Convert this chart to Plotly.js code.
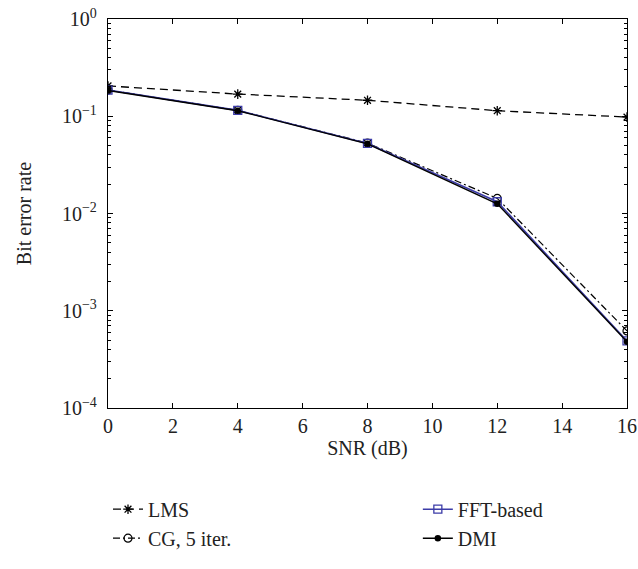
<!DOCTYPE html>
<html>
<head>
<meta charset="utf-8">
<script src="https://cdn.plot.ly/plotly-3.0.1.min.js"></script>
<style>html,body{margin:0;padding:0;background:#fff;}#plot{width:638px;height:569px;}</style>
</head>
<body>
<div id="plot"></div>
<script>
const snr = [0, 4, 8, 12, 16];
const berLMS = [0.205, 0.169, 0.146, 0.114, 0.098];
const berCG = [0.186, 0.115, 0.053, 0.0143, 0.00062];
const berFFT = [0.186, 0.115, 0.0525, 0.0132, 0.00049];
const berDMI = [0.184, 0.114, 0.052, 0.0126, 0.00048];
const yTickVals = [1e-4, 1e-3, 1e-2, 1e-1, 1];
const yTickText = ['10<sup>−4</sup>', '10<sup>−3</sup>', '10<sup>−2</sup>', '10<sup>−1</sup>', '10<sup>0</sup>'];
const xTickVals = [0, 2, 4, 6, 8, 10, 12, 14, 16];
const minorMantissas = [2, 3, 4, 5, 6, 7, 8, 9];
const minorDecades = [1e-4, 1e-3, 1e-2, 1e-1];

const yMinorVals = [];
minorDecades.forEach(d => minorMantissas.forEach(m => yMinorVals.push(m * d)));

const fontFam = '"Liberation Serif", "DejaVu Serif", serif';
const blue = '#3c3ca8';
const txt = '#222';

const traces = [
  {x: [], y: [], yaxis: 'y2', showlegend: false, hoverinfo: 'skip', mode: 'markers'},
  {x: snr, y: berLMS, name: 'LMS', mode: 'lines+markers', legend: 'legend',
   line: {color: 'black', width: 1.3, dash: '8px,5px'},
   marker: {symbol: 'asterisk-open', size: 8, color: 'black', line: {color: 'black', width: 1.3}}},
  {x: snr, y: berCG, name: 'CG, 5 iter.', mode: 'lines+markers', legend: 'legend',
   line: {color: 'black', width: 1.2, dash: '7px,3px,2px,3px'},
   marker: {symbol: 'circle-open', size: 8, color: 'black', line: {color: 'black', width: 1.2}}},
  {x: snr, y: berFFT, name: 'FFT-based', mode: 'lines+markers', legend: 'legend2',
   line: {color: blue, width: 1.6},
   marker: {symbol: 'square-open', size: 8, color: blue, line: {color: blue, width: 1.3}}},
  {x: snr, y: berDMI, name: 'DMI', mode: 'lines+markers', legend: 'legend2',
   line: {color: 'black', width: 1.4},
   marker: {symbol: 'circle', size: 6.5, color: 'black'}}
];

const axisCommon = {
  showline: true, linecolor: 'black', linewidth: 1.2, mirror: 'ticks',
  ticks: 'inside', ticklen: 5, tickcolor: 'black', tickwidth: 1,
  showgrid: false, zeroline: false,
  tickfont: {family: fontFam, size: 20, color: txt}
};

const layout = {
  width: 638, height: 569,
  margin: {l: 108, r: 11, t: 19, b: 141},
  paper_bgcolor: 'white', plot_bgcolor: 'white',
  font: {family: fontFam, size: 20, color: txt},
  showlegend: true,
  xaxis: Object.assign({}, axisCommon, {
    range: [0, 16], tickmode: 'array', tickvals: xTickVals,
    title: {text: 'SNR (dB)', font: {family: fontFam, size: 20, color: txt}, standoff: 2}
  }),
  yaxis: Object.assign({}, axisCommon, {
    type: 'log', range: [-4, 0], tickmode: 'array', tickvals: yTickVals, ticktext: yTickText,
    ticklabelstandoff: 6,
    title: {text: 'Bit error rate', font: {family: fontFam, size: 20, color: txt}, standoff: 24}
  }),
  yaxis2: {
    type: 'log', range: [-4, 0], overlaying: 'y', side: 'left',
    tickmode: 'array', tickvals: yMinorVals, showticklabels: false,
    ticks: 'inside', ticklen: 3, tickwidth: 1, tickcolor: 'black',
    showline: false, mirror: 'ticks', showgrid: false, zeroline: false
  },
  legend: {x: 0, xanchor: 'left', y: -0.21, yanchor: 'top', bgcolor: 'rgba(0,0,0,0)',
           font: {family: fontFam, size: 20, color: txt}, tracegroupgap: 0},
  legend2: {x: 0.597, xanchor: 'left', y: -0.21, yanchor: 'top', bgcolor: 'rgba(0,0,0,0)',
           font: {family: fontFam, size: 20, color: txt}, tracegroupgap: 0}
};

Plotly.newPlot('plot', traces, layout, {displayModeBar: false, staticPlot: true});
</script>
</body>
</html>
